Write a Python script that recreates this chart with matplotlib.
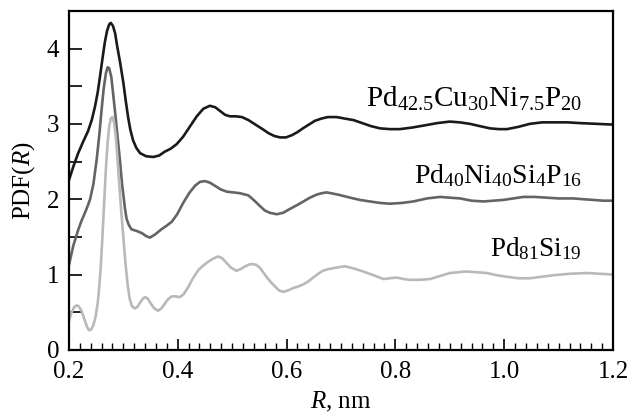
import matplotlib
matplotlib.use("Agg")
import matplotlib.pyplot as plt
from matplotlib.ticker import MultipleLocator

plt.rcParams["font.family"] = ["Liberation Serif", "DejaVu Serif"]
plt.rcParams["mathtext.fontset"] = "custom"
plt.rcParams["mathtext.rm"] = "Liberation Serif"
plt.rcParams["mathtext.it"] = "Liberation Serif:italic"

# Pd42.5Cu30Ni7.5P20
r_cu = [0.200, 0.208, 0.217, 0.226, 0.235, 0.242, 0.248, 0.253, 0.257, 0.262,
        0.266, 0.270, 0.274, 0.277, 0.281, 0.285, 0.289, 0.294, 0.300, 0.305,
        0.309, 0.313, 0.318, 0.324, 0.331, 0.342, 0.355, 0.366, 0.376, 0.387,
        0.398, 0.410, 0.422, 0.435, 0.447, 0.459, 0.469, 0.478, 0.487, 0.496,
        0.507, 0.518, 0.530, 0.545, 0.556, 0.566, 0.577, 0.588, 0.599, 0.610,
        0.620, 0.630, 0.641, 0.652, 0.664, 0.676, 0.692, 0.707, 0.723, 0.739,
        0.755, 0.772, 0.790, 0.808, 0.830, 0.854, 0.877, 0.900, 0.918, 0.937,
        0.955, 0.974, 0.990, 1.005, 1.026, 1.047, 1.070, 1.093, 1.116, 1.139,
        1.170, 1.200]
pdf_cu = [2.25, 2.43, 2.61, 2.76, 2.90, 3.05, 3.23, 3.42, 3.62, 3.88,
          4.08, 4.23, 4.32, 4.34, 4.30, 4.20, 4.02, 3.82, 3.55, 3.28,
          3.08, 2.92, 2.78, 2.68, 2.61, 2.57, 2.56, 2.58, 2.63, 2.67,
          2.73, 2.83, 2.96, 3.10, 3.20, 3.24, 3.22, 3.17, 3.12, 3.10,
          3.10, 3.09, 3.05, 2.98, 2.93, 2.88, 2.84, 2.82, 2.82, 2.85,
          2.89, 2.94, 2.99, 3.04, 3.07, 3.09, 3.09, 3.07, 3.05, 3.01,
          2.97, 2.94, 2.93, 2.93, 2.95, 2.98, 3.01, 3.03, 3.02, 3.00,
          2.97, 2.94, 2.93, 2.93, 2.96, 3.00, 3.02, 3.02, 3.02, 3.01,
          3.00, 2.99]

# Pd40Ni40Si4P16
r_ni = [0.200, 0.208, 0.217, 0.223, 0.229, 0.234, 0.239, 0.245, 0.251, 0.256,
        0.260, 0.264, 0.268, 0.271, 0.274, 0.278, 0.281, 0.285, 0.289, 0.294,
        0.298, 0.303, 0.306, 0.310, 0.315, 0.324, 0.334, 0.342, 0.349, 0.358,
        0.370, 0.380, 0.389, 0.399, 0.410, 0.421, 0.432, 0.441, 0.450, 0.459,
        0.468, 0.479, 0.490, 0.502, 0.514, 0.530, 0.541, 0.551, 0.560, 0.569,
        0.582, 0.594, 0.606, 0.619, 0.631, 0.643, 0.655, 0.665, 0.674, 0.695,
        0.717, 0.735, 0.753, 0.772, 0.790, 0.812, 0.833, 0.858, 0.882, 0.900,
        0.919, 0.940, 0.962, 0.980, 0.998, 1.017, 1.035, 1.056, 1.078, 1.100,
        1.127, 1.145, 1.164, 1.182, 1.200]
pdf_ni = [1.12, 1.38, 1.59, 1.71, 1.81, 1.90, 2.00, 2.20, 2.52, 2.86,
          3.18, 3.47, 3.67, 3.75, 3.74, 3.62, 3.42, 3.15, 2.86, 2.50,
          2.18, 1.88, 1.74, 1.66, 1.60, 1.58, 1.55, 1.51, 1.49, 1.53,
          1.60, 1.65, 1.70, 1.80, 1.95, 2.08, 2.18, 2.23, 2.24, 2.22,
          2.18, 2.13, 2.10, 2.09, 2.08, 2.05, 1.98, 1.91, 1.85, 1.82,
          1.80, 1.82, 1.87, 1.92, 1.97, 2.02, 2.06, 2.08, 2.09, 2.06,
          2.02, 1.99, 1.97, 1.95, 1.94, 1.95, 1.97, 2.01, 2.03, 2.02,
          2.01, 1.98, 1.97, 1.98, 1.99, 2.01, 2.03, 2.03, 2.02, 2.01,
          2.01, 2.00, 1.99, 1.98, 1.98]

# Pd81Si19
r_si = [0.200, 0.205, 0.210, 0.214, 0.218, 0.223, 0.228, 0.233, 0.237, 0.241,
        0.245, 0.249, 0.253, 0.256, 0.259, 0.262, 0.265, 0.268, 0.271, 0.274,
        0.277, 0.280, 0.283, 0.286, 0.289, 0.292, 0.296, 0.300, 0.304, 0.308,
        0.312, 0.316, 0.321, 0.326, 0.331, 0.336, 0.340, 0.345, 0.351, 0.357,
        0.364, 0.370, 0.376, 0.382, 0.389, 0.396, 0.404, 0.411, 0.419, 0.428,
        0.438, 0.447, 0.456, 0.465, 0.474, 0.481, 0.489, 0.498, 0.508, 0.515,
        0.522, 0.530, 0.536, 0.544, 0.551, 0.557, 0.563, 0.571, 0.579, 0.586,
        0.594, 0.603, 0.612, 0.621, 0.631, 0.640, 0.649, 0.658, 0.667, 0.676,
        0.690, 0.707, 0.724, 0.741, 0.760, 0.778, 0.790, 0.802, 0.815, 0.827,
        0.845, 0.864, 0.882, 0.900, 0.915, 0.931, 0.950, 0.968, 0.987, 1.005,
        1.026, 1.047, 1.068, 1.090, 1.120, 1.152, 1.176, 1.200]
pdf_si = [0.38, 0.50, 0.57, 0.59, 0.58, 0.52, 0.42, 0.31, 0.26, 0.27,
          0.33, 0.44, 0.62, 0.85, 1.15, 1.55, 1.98, 2.40, 2.74, 2.96,
          3.07, 3.09, 3.02, 2.85, 2.58, 2.25, 1.86, 1.50, 1.15, 0.86,
          0.67, 0.58, 0.55, 0.57, 0.63, 0.68, 0.70, 0.68, 0.61, 0.55,
          0.52, 0.55, 0.61, 0.67, 0.71, 0.71, 0.70, 0.74, 0.83, 0.95,
          1.06, 1.12, 1.17, 1.21, 1.24, 1.22, 1.16, 1.09, 1.05, 1.07,
          1.10, 1.13, 1.14, 1.13, 1.09, 1.03, 0.97, 0.90, 0.84, 0.79,
          0.77, 0.79, 0.82, 0.84, 0.87, 0.91, 0.96, 1.01, 1.05, 1.07,
          1.09, 1.11, 1.08, 1.04, 0.99, 0.94, 0.95, 0.96, 0.94, 0.93,
          0.93, 0.94, 0.98, 1.02, 1.03, 1.04, 1.03, 1.02, 0.99, 0.97,
          0.95, 0.95, 0.97, 0.99, 1.01, 1.02, 1.01, 1.00]

labels = [r"Pd$_{42.5}$Cu$_{30}$Ni$_{7.5}$P$_{20}$",
          r"Pd$_{40}$Ni$_{40}$Si$_{4}$P$_{16}$",
          r"Pd$_{81}$Si$_{19}$"]
label_y = [3.22, 2.21, 1.24]
label_size = [21, 20, 19.5]
colors = ["#1a1a1a", "#646464", "#b9b9bb"]

fig = plt.figure(figsize=(6.32, 4.17), dpi=100)
ax = fig.add_axes([0.109, 0.161, 0.861, 0.813])

series = [(r_cu, pdf_cu), (r_ni, pdf_ni), (r_si, pdf_si)]
for (r, p), c, lab, ly, fs in zip(series, colors, labels, label_y, label_size):
    ax.plot(r, p, color=c, lw=1.9, solid_capstyle="round", solid_joinstyle="round")
    ax.text(1.143, ly, lab, ha="right", va="baseline", fontsize=fs)

ax.set_xlim(0.2, 1.2)
ax.set_ylim(0, 4.5)
ax.xaxis.set_major_locator(MultipleLocator(0.2))
ax.xaxis.set_minor_locator(MultipleLocator(0.02))
ax.yaxis.set_major_locator(MultipleLocator(1))
ax.yaxis.set_minor_locator(MultipleLocator(0.5))
ax.set_xticklabels([f"{v:.1f}" for v in ax.get_xticks()])
ax.tick_params(which="both", direction="in", labelsize=18, width=1.2)
ax.tick_params(axis="x", which="major", length=8, pad=8)
ax.tick_params(axis="x", which="minor", length=5, width=1.0)
ax.tick_params(axis="y", which="both", length=9, pad=7)
for s in ax.spines.values():
    s.set_linewidth(1.6)

ax.set_xlabel(r"$R$, nm", fontsize=18, labelpad=5)
ax.set_ylabel(r"PDF($R$)", fontsize=18, labelpad=7)

fig.savefig("out.png", dpi=100)
